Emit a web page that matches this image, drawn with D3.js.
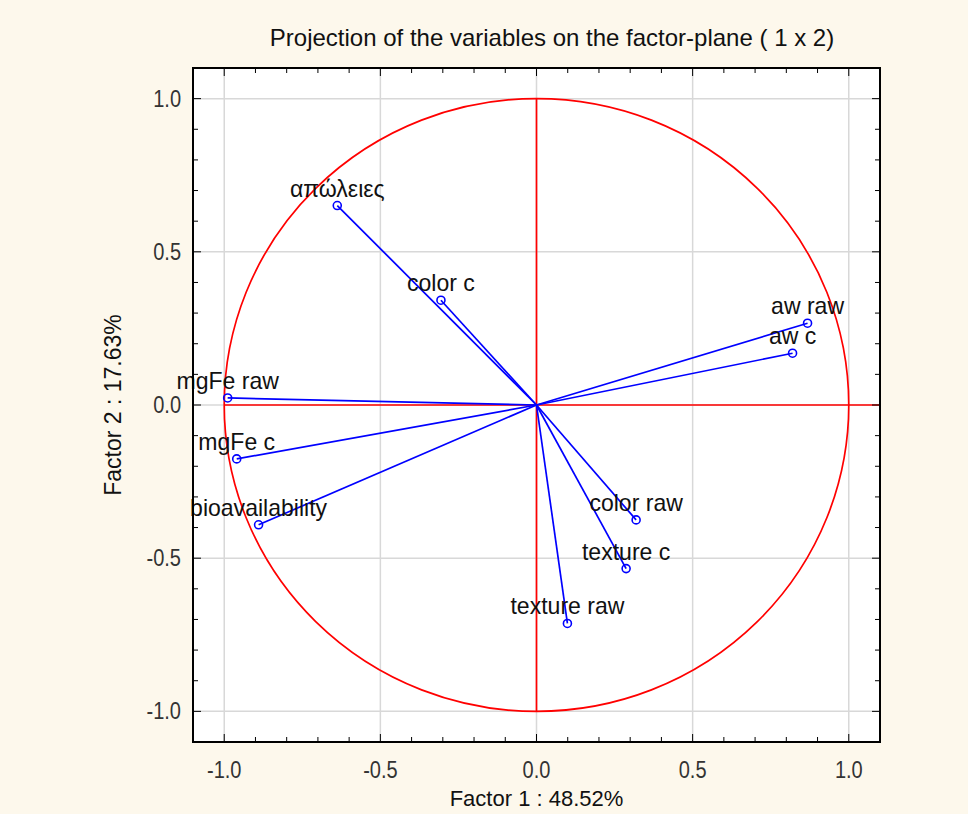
<!DOCTYPE html>
<html>
<head>
<meta charset="utf-8">
<script src="https://cdn.jsdelivr.net/npm/d3@7"></script>
<style>
  body { margin: 0; background: #fdf8ec; }
  svg { display: block; }
  text { font-family: "Liberation Sans", Arial, sans-serif; }
</style>
</head>
<body>
<div id="main"></div>
<script>
// variables and their loadings on factor 1 / factor 2
const names = ['απώλειες', 'color c', 'aw raw', 'aw c', 'mgFe raw', 'mgFe c',
  'bioavailability', 'color raw', 'texture c', 'texture raw'];
const factor1 = [-0.638, -0.306, 0.868, 0.820, -0.989, -0.960, -0.890, 0.319, 0.287, 0.099];
const factor2 = [0.651, 0.342, 0.267, 0.169, 0.023, -0.176, -0.391, -0.375, -0.534, -0.713];
const tickValues = [-1.0, -0.5, 0.0, 0.5, 1.0];

const width = 968, height = 814;
const margin = { top: 68, right: 88, bottom: 72, left: 193 };

const svg = d3.select('#main').append('svg')
  .attr('width', width)
  .attr('height', height);

const x = d3.scaleLinear().domain([-1.1, 1.1]).range([margin.left, width - margin.right]);
const y = d3.scaleLinear().domain([-1.1, 1.1]).range([height - margin.bottom, margin.top]);

// text helper, the original font is a bit narrow
function label(g, tx, ty, str, size, squeeze, anchor) {
  return g.append('text')
    .attr('transform', `translate(${tx},${ty}) scale(${squeeze},1)`)
    .attr('text-anchor', anchor || 'middle')
    .attr('font-size', size)
    .text(str);
}

svg.append('rect')
  .attr('x', x(-1.1)).attr('y', y(1.1))
  .attr('width', x(1.1) - x(-1.1)).attr('height', y(-1.1) - y(1.1))
  .attr('fill', '#fff');

// grid
const grid = svg.append('g').attr('stroke', '#d8d8d8').attr('stroke-width', 1.5);
grid.selectAll('.gx').data(tickValues).enter().append('line')
  .attr('x1', d => x(d)).attr('x2', d => x(d))
  .attr('y1', y(1.1)).attr('y2', y(-1.1));
grid.selectAll('.gy').data(tickValues).enter().append('line')
  .attr('y1', d => y(d)).attr('y2', d => y(d))
  .attr('x1', x(-1.1)).attr('x2', x(1.1));

// unit circle and axes in red
svg.append('ellipse')
  .attr('cx', x(0)).attr('cy', y(0))
  .attr('rx', x(1) - x(0)).attr('ry', y(0) - y(1))
  .attr('fill', 'none').attr('stroke', '#ff0000').attr('stroke-width', 1.7);
svg.append('line')
  .attr('x1', x(-1)).attr('x2', x(1.1)).attr('y1', y(0)).attr('y2', y(0))
  .attr('stroke', '#ff0000').attr('stroke-width', 1.7);
svg.append('line')
  .attr('x1', x(0)).attr('x2', x(0)).attr('y1', y(1)).attr('y2', y(-1))
  .attr('stroke', '#ff0000').attr('stroke-width', 1.7);

// vectors
const idx = d3.range(names.length);
svg.append('g').selectAll('line').data(idx).enter().append('line')
  .attr('x1', x(0)).attr('y1', y(0))
  .attr('x2', i => x(factor1[i])).attr('y2', i => y(factor2[i]))
  .attr('stroke', '#0000ff').attr('stroke-width', 1.7);
svg.append('g').selectAll('circle').data(idx).enter().append('circle')
  .attr('cx', i => x(factor1[i])).attr('cy', i => y(factor2[i]))
  .attr('r', 4)
  .attr('fill', 'none').attr('stroke', '#0000ff').attr('stroke-width', 1.6);
const labels = svg.append('g').attr('fill', '#111');
idx.forEach(i => label(labels, x(factor1[i]), y(factor2[i]) - 9, names[i], 24, 0.96));

// axes with inward ticks
const minor = d3.range(-11, 12).map(d => d / 10);
const axes = svg.append('g').attr('stroke', '#000');
const isMajor = d => Math.abs(d * 2 - Math.round(d * 2)) < 1e-6;
minor.forEach(d => {
  const len = isMajor(d) ? 8 : 5;
  axes.append('line').attr('x1', x(d)).attr('x2', x(d)).attr('y1', y(1.1)).attr('y2', y(1.1) + len);
  axes.append('line').attr('x1', x(d)).attr('x2', x(d)).attr('y1', y(-1.1)).attr('y2', y(-1.1) - len);
  axes.append('line').attr('y1', y(d)).attr('y2', y(d)).attr('x1', x(-1.1)).attr('x2', x(-1.1) + len);
  axes.append('line').attr('y1', y(d)).attr('y2', y(d)).attr('x1', x(1.1)).attr('x2', x(1.1) - len);
});
svg.append('rect')
  .attr('x', x(-1.1)).attr('y', y(1.1))
  .attr('width', x(1.1) - x(-1.1)).attr('height', y(-1.1) - y(1.1))
  .attr('fill', 'none').attr('stroke', '#000').attr('stroke-width', 2);

const fmt = d3.format('.1f');
const tl = svg.append('g').attr('fill', '#333');
tickValues.forEach(d => {
  label(tl, x(d), y(-1.1) + 36, fmt(d).replace('−', '-'), 23, 0.87);
  label(tl, x(-1.1) - 12, y(d) + 8, fmt(d).replace('−', '-'), 23, 0.87, 'end');
});

// titles
label(svg, 552, 46, 'Projection of the variables on the factor-plane (  1 x  2)', 24, 1.0).attr('fill', '#111');
label(svg, x(0), 806, 'Factor 1 : 48.52%', 22, 1.0).attr('fill', '#111');
svg.append('text')
  .attr('transform', `translate(121,${y(0)}) rotate(-90)`)
  .attr('text-anchor', 'middle')
  .attr('font-size', 23)
  .attr('fill', '#111')
  .text('Factor 2 : 17.63%');
</script>
</body>
</html>
